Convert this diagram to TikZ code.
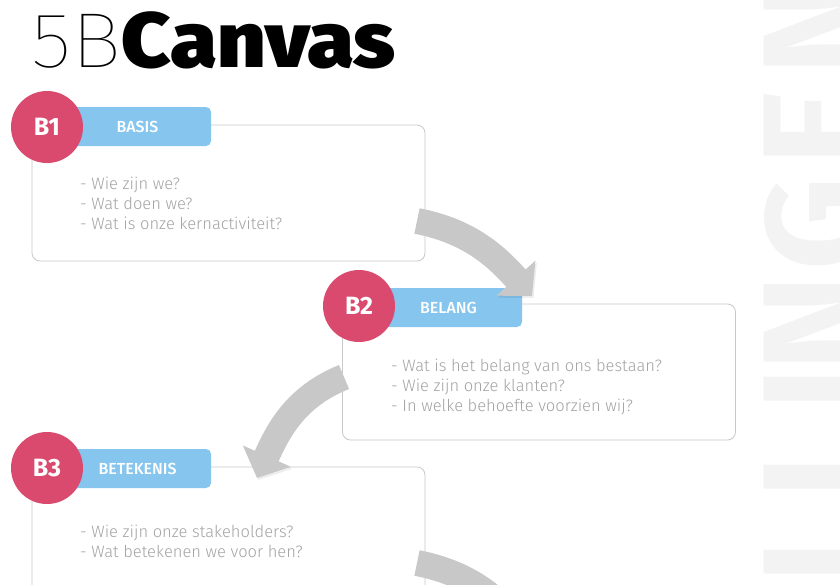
\documentclass[tikz,border=0pt]{standalone}
\usepackage{fontspec}
\setmainfont{Fira Sans}[UprightFont=* Light, BoldFont=* Bold]
\newfontfamily\titlethin{Fira Sans}[UprightFont=* Thin]
\newfontfamily\titleheavy{Fira Sans}[UprightFont=* Black]
\newfontfamily\tabfont{Fira Sans}[UprightFont=* Medium]
\usetikzlibrary{arrows.meta,positioning}

\definecolor{tagred}{HTML}{DA4A6E}
\definecolor{tabblue}{HTML}{85C5EE}
\definecolor{panelgray}{HTML}{C9C9C9}
\definecolor{qgray}{HTML}{A3A3A3}
\definecolor{arrowgray}{HTML}{C8C8C8}
\definecolor{ghost}{HTML}{F3F3F3}

\tikzset{
  tag/.style={circle, fill=tagred, minimum size=72pt, inner sep=0pt, text=white, font=\bfseries\fontsize{25}{25}\selectfont},
  tab/.style={fill=tabblue, rounded corners=5pt, minimum width=147pt, minimum height=39pt, inner sep=0pt, text=white, font=\tabfont\fontsize{16}{16}\selectfont},
  panel/.style={draw=panelgray, line width=0.8pt, rounded corners=8pt, inner sep=0pt, minimum width=393pt, minimum height=136pt},
  questions/.style={text=qgray, align=left, inner sep=0pt, anchor=north west, font=\fontsize{16.5}{20}\selectfont},
  bigarrow/.style={draw=arrowgray, line width=26pt, -{Triangle[length=24pt, width=51pt]},
    preaction={draw=black, draw opacity=0.07, transform canvas={shift={(1.5pt,-2pt)}}}},
  ghostletter/.style={rotate=90, anchor=north west, inner sep=0pt, text=ghost, font=\bfseries\fontsize{145}{145}\selectfont},
}

\begin{document}
\begin{tikzpicture}[x=1pt, y=1pt]
\useasboundingbox (0,0) rectangle (840,-584);
\clip (0,0) rectangle (840,-584);
\fill[white] (0,0) rectangle (840,-584);

% watermark word, cut by the right edge (read upwards)
\foreach \ch/\yy [count=\i] in {L/575, L/490, I/402, N/363, G/262, E/157, N/67}
  \node[ghostletter] (ghost\i) at (764,-\yy-9) {\ch};

% title
\node[anchor=base west, inner sep=0pt, xscale=1.09, font=\fontsize{78}{78}\selectfont] (title) at (31,-67) {{\titlethin 5B}{\titleheavy Canvas}};

% B1
\node[panel] (b1box) at (228.5,-193) {};
\node[tab] (b1tab) at (137.5,-126.5) {BASIS};
\node[tag] (b1) at (47,-127) {B1};
\node[questions] (b1q) at (80,-176.5) {- Wie zijn we?\\- Wat doen we?\\- Wat is onze kernactiviteit?};

% B2
\node[panel] (b2box) at (539,-372) {};
\node[tab] (b2tab) at (448.5,-307.5) {BELANG};
\node[tag] (b2) at (359,-306) {B2};
\node[questions] (b2q) at (391,-358.5) {- Wat is het belang van ons bestaan?\\- Wie zijn onze klanten?\\- In welke behoefte voorzien wij?};

% B3
\node[panel] (b3box) at (228.5,-535) {};
\node[tab] (b3tab) at (137.5,-468.5) {BETEKENIS};
\node[tag] (b3) at (47,-468) {B3};
\node[questions] (b3q) at (80,-524.5) {- Wie zijn onze stakeholders?\\- Wat betekenen we voor hen?};

% arrows between the steps
\coordinate (a1s) at (417,-221);
\coordinate (a1e) at (532,-296);
\coordinate (a2s) at (344,-377);
\coordinate (a2e) at (257,-478);
\coordinate (a3s) at (417,-563);
\coordinate (a3e) at (532,-638);
\draw[bigarrow] (a1s) to[out=-11, in=132] (a1e);
\draw[bigarrow] (a2s) to[out=-158, in=66] (a2e);
\draw[bigarrow] (a3s) to[out=-11, in=132] (a3e);
\end{tikzpicture}
\end{document}
